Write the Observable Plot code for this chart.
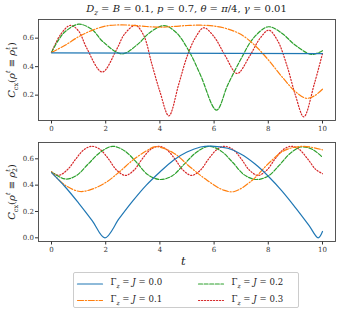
<!DOCTYPE html>
<html><head><meta charset="utf-8">
<script src="https://cdn.jsdelivr.net/npm/d3@7"></script>
<script src="https://cdn.jsdelivr.net/npm/@observablehq/plot@0.6"></script>
<style>
body{margin:0;background:#fff;width:342px;height:316px;overflow:hidden;position:relative;font-family:"DejaVu Serif",serif;color:#222;}
.abs{position:absolute;}
#title{left:38px;width:297px;top:3px;text-align:center;font-size:10px;white-space:nowrap;}
.ylab{position:absolute;font-size:10px;white-space:nowrap;transform:translate(-50%,-50%) rotate(-90deg);}
.ylab sub,.ylab sup{font-size:6.5px;}
#xlab{left:181px;top:254px;font-size:11.5px;font-style:italic;}
#legend{left:73px;top:272px;width:226px;height:36px;border:0.8px solid #ccc;border-radius:2px;box-sizing:border-box;}
.lg{position:absolute;font-size:8.6px;white-space:nowrap;}
.lg sub{font-size:6px;}
</style></head><body>
<div id="title" class="abs"><i>D<sub style="font-size:7px">z</sub></i> = <i>B</i> = 0.1, <i>p</i> = 0.7, <i>θ</i> = <i>π</i>/4, <i>γ</i> = 0.01</div>
<div id="p1" class="abs" style="left:0;top:0"></div>
<div id="p2" class="abs" style="left:0;top:122px"></div>
<div class="ylab" style="left:12px;top:70px"><i>C</i><sub>cx</sub>(<i>ρ</i><sup><i>t</i></sup> ≡ <i>ρ</i><sup><i>t</i></sup><sub style="margin-left:-3px">1</sub>)</div>
<div class="ylab" style="left:12px;top:192px"><i>C</i><sub>cx</sub>(<i>ρ</i><sup><i>t</i></sup> ≡ <i>ρ</i><sup><i>t</i></sup><sub style="margin-left:-3px">2</sub>)</div>
<div id="xlab" class="abs">t</div>
<div id="legend" class="abs"></div>
<div id="lgsvg" class="abs" style="left:73px;top:272px;width:226px;height:36px"></div>
<script>
// ---- data ----
const seriesNames = ["Γz = J = 0.0", "Γz = J = 0.1", "Γz = J = 0.2", "Γz = J = 0.3"];
const colors = ["#1f77b4", "#ff7f0e", "#2ca02c", "#d62728"];
const dashes = [null, "6,1.8,1.2,1.8", "4,1.6", "1.2,1.8"];
const xTicks = [0, 2, 4, 6, 8, 10];
const yTicksTop = [0.2, 0.4, 0.6];
const yTicksBottom = [0.0, 0.2, 0.4, 0.6];

// top panel (rho_1)
const top0_t = [0, 10];
const top0_v = [0.497, 0.492];
const top1_t = [0, 0.5, 1, 1.5, 2, 2.5, 3, 3.5, 4, 4.5, 5, 5.5, 6, 6.5, 7, 7.5, 8, 8.5, 9, 9.4, 9.7, 10];
const top1_v = [0.50, 0.55, 0.61, 0.655, 0.685, 0.693, 0.69, 0.682, 0.677, 0.682, 0.689, 0.691, 0.685, 0.665, 0.625, 0.55, 0.448, 0.33, 0.225, 0.178, 0.195, 0.242];
const top2_t = [0, 0.25, 0.5, 1.0, 1.5, 1.9, 2.6, 3.2, 3.6, 4.15, 4.6, 5.1, 5.5, 6.09, 6.5, 7.0, 7.45, 8.0, 8.5, 9.0, 9.6, 10];
const top2_v = [0.50, 0.585, 0.645, 0.698, 0.66, 0.575, 0.49, 0.56, 0.635, 0.688, 0.64, 0.50, 0.34, 0.095, 0.27, 0.457, 0.60, 0.68, 0.635, 0.55, 0.486, 0.512];
const top3_t = [0, 0.35, 0.7, 1.0, 1.3, 1.87, 2.4, 2.7, 3.1, 3.4, 3.7, 4.0, 4.33, 4.7, 5.0, 5.3, 5.62, 6.0, 6.4, 6.85, 7.3, 7.7, 8.02, 8.35, 8.7, 9.0, 9.31, 9.7, 10];
const top3_v = [0.50, 0.63, 0.69, 0.65, 0.53, 0.362, 0.52, 0.63, 0.69, 0.62, 0.42, 0.225, 0.055, 0.28, 0.47, 0.60, 0.673, 0.61, 0.48, 0.352, 0.47, 0.60, 0.656, 0.58, 0.40, 0.20, 0.048, 0.28, 0.492];

// bottom panel (rho_2)
const bot0_t = [0, 0.5, 1.0, 1.5, 1.97, 2.5, 3.0, 3.5, 4.0, 4.5, 5.0, 5.5, 5.9, 6.5, 7.0, 7.5, 8.0, 8.5, 9.0, 9.5, 9.84, 10];
const bot0_v = [0.495, 0.388, 0.264, 0.131, 0.0, 0.147, 0.28, 0.40, 0.50, 0.59, 0.652, 0.69, 0.697, 0.68, 0.634, 0.562, 0.468, 0.357, 0.23, 0.095, 0.0, 0.048];
const bot1_t = [0, 0.5, 1.05, 1.5, 2.0, 2.5, 3.0, 3.5, 3.85, 4.5, 5.1, 5.75, 6.35, 6.75, 7.4, 8.0, 8.6, 9.3, 10];
const bot1_v = [0.50, 0.40, 0.352, 0.37, 0.42, 0.50, 0.59, 0.66, 0.692, 0.645, 0.54, 0.436, 0.362, 0.352, 0.436, 0.563, 0.664, 0.695, 0.668];
const bot2_t = [0, 0.5, 0.9, 1.35, 1.8, 2.25, 2.7, 3.15, 3.55, 4.0, 4.45, 4.9, 5.35, 5.8, 6.25, 6.7, 7.1, 7.55, 8.0, 8.4, 8.8, 9.2, 9.6, 10];
const bot2_v = [0.50, 0.447, 0.47, 0.56, 0.65, 0.695, 0.66, 0.57, 0.48, 0.443, 0.47, 0.56, 0.65, 0.695, 0.66, 0.57, 0.48, 0.443, 0.47, 0.55, 0.64, 0.69, 0.675, 0.612];
const bot3_t = [0, 0.27, 0.6, 0.9, 1.2, 1.5, 1.8, 2.1, 2.4, 2.73, 3.05, 3.35, 3.65, 3.95, 4.25, 4.55, 4.85, 5.17, 5.5, 5.8, 6.1, 6.38, 6.7, 7.0, 7.3, 7.62, 7.95, 8.25, 8.55, 8.85, 9.15, 9.45, 9.75, 10];
const bot3_v = [0.50, 0.475, 0.52, 0.60, 0.67, 0.695, 0.67, 0.60, 0.515, 0.474, 0.515, 0.60, 0.67, 0.695, 0.67, 0.60, 0.515, 0.474, 0.515, 0.60, 0.67, 0.695, 0.67, 0.60, 0.515, 0.474, 0.515, 0.60, 0.67, 0.695, 0.67, 0.60, 0.52, 0.487];

const topSeries = [[top0_t, top0_v], [top1_t, top1_v], [top2_t, top2_v], [top3_t, top3_v]];
const botSeries = [[bot0_t, bot0_v], [bot1_t, bot1_v], [bot2_t, bot2_v], [bot3_t, bot3_v]];

function rows(series) {
  const out = [];
  series.forEach(([ts, vs], i) => ts.forEach((t, j) => out.push({t, v: vs[j], s: i})));
  return out;
}

function panel(series, yDomain, yTicks, h, mt, mb) {
  const data = rows(series);
  const lines = [3, 2, 1, 0].map(i => Plot.line(data.filter(d => d.s === i), {
    x: "t", y: "v", stroke: colors[i], strokeWidth: 1.2,
    strokeDasharray: dashes[i], curve: "catmull-rom"
  }));
  return Plot.plot({
    width: 342, height: h,
    marginLeft: 38, marginRight: 7, marginTop: mt, marginBottom: mb,
    style: {fontFamily: "DejaVu Serif", fontSize: "7px", color: "#333", background: "transparent"},
    x: {domain: [-0.48, 10.48], ticks: xTicks, tickSize: 3.5, tickPadding: 2, label: null, tickFormat: d => String(d)},
    y: {domain: yDomain, ticks: yTicks, tickSize: 3, tickPadding: 1.5, label: null, tickFormat: d3.format(".1f")},
    marks: [
      ...lines,
      Plot.frame({stroke: "#444", strokeWidth: 0.9})
    ]
  });
}

document.getElementById("p1").append(panel(topSeries, [0.022, 0.731], yTicksTop, 140, 19, 20));
document.getElementById("p2").append(panel(botSeries, [-0.028, 0.724], yTicksBottom, 140, 20, 21));

// legend samples (coordinates relative to the legend box)
const lgCol = [4, 4, 125, 125];
const lgRow = [11.5, 28, 11.5, 28];
const lgData = [];
seriesNames.forEach((n, i) => {
  lgData.push({s: i, x: lgCol[i], y: lgRow[i]});
  lgData.push({s: i, x: lgCol[i] + 25, y: lgRow[i]});
});
const lg = Plot.plot({
  width: 226, height: 36, margin: 0,
  x: {domain: [0, 226], range: [0, 226], axis: null},
  y: {domain: [0, 36], range: [0, 36], axis: null},
  style: {background: "transparent"},
  marks: [0, 1, 2, 3].map(i => Plot.line(lgData.filter(d => d.s === i), {
    x: "x", y: "y", stroke: colors[i], strokeWidth: 1.2, strokeDasharray: dashes[i]
  }))
});
document.getElementById("lgsvg").append(lg);
const legendLabels = ["0.0", "0.1", "0.2", "0.3"];
seriesNames.forEach((n, i) => {
  const el = document.createElement("div");
  el.className = "lg";
  el.style.left = (73 + lgCol[i] + 33.5) + "px";
  el.style.top = (272 + lgRow[i] - 6.5) + "px";
  el.innerHTML = `Γ<sub><i>z</i></sub> = <i>J</i> = ${legendLabels[i]}`;
  document.body.append(el);
});
</script>
</body></html>
